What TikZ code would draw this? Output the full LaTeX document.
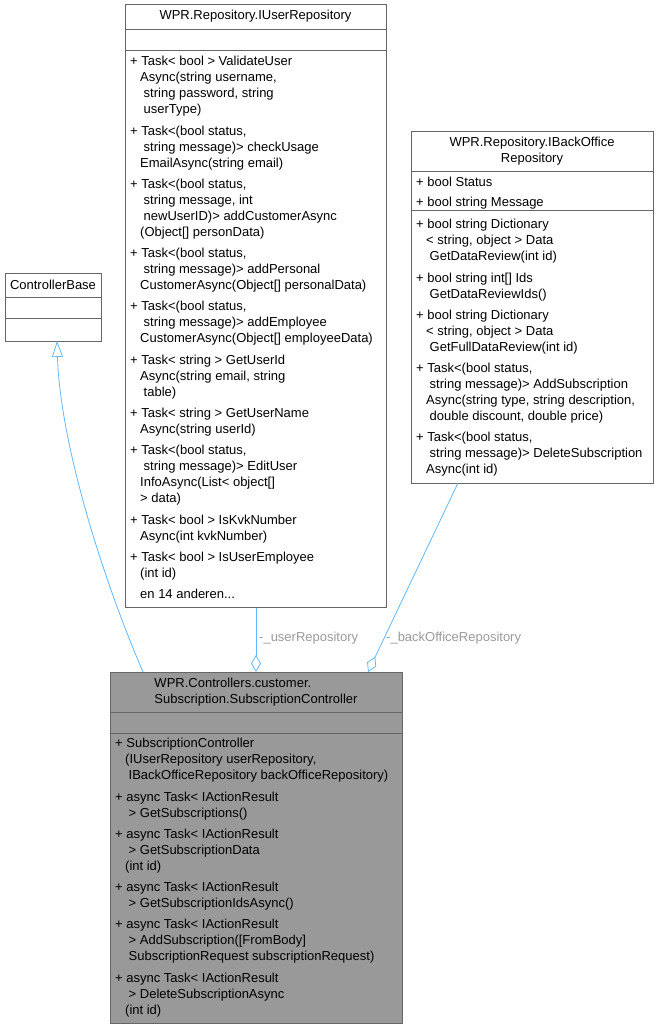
\documentclass[tikz,border=0pt]{standalone}
\usepackage{fontspec}
\setmainfont{Liberation Sans}
\usetikzlibrary{arrows.meta}
\definecolor{edgeblue}{HTML}{63B8FF}
\definecolor{boxline}{HTML}{666666}
\definecolor{ctrlfill}{HTML}{999999}
\definecolor{lblgray}{HTML}{9A9A9A}
\newcommand{\ind}{\hspace*{10pt}}
\newcommand{\indd}{\hspace*{13.5pt}}
\tikzset{
  classbox/.style={draw=boxline, fill=white, line width=1pt, inner sep=0pt, anchor=north west},
  divline/.style={draw=boxline, line width=1pt},
  title/.style={align=center, inner sep=0pt},
  member/.style={anchor=north west, align=left, inner sep=0pt},
  inherit/.style={draw=edgeblue, line width=0.8pt, -{Triangle[open,length=16pt,width=11pt]}},
  aggr/.style={draw=edgeblue, line width=0.8pt, -{Diamond[open,length=17pt,width=10pt]}},
  edgelbl/.style={anchor=west, text=lblgray, inner sep=0pt}
}
\begin{document}
\begin{tikzpicture}[x=1pt,y=-1pt,font=\fontsize{13}{16}\selectfont]
\useasboundingbox (0,0) rectangle (659,1029);

% the boxes
\node[classbox,minimum width=96,minimum height=68] (cbase) at (5,273) {};
\node[classbox,minimum width=261,minimum height=603] (iuser) at (125,4) {};
\node[classbox,minimum width=242,minimum height=352] (ibo) at (411,131) {};
\node[classbox,fill=ctrlfill,minimum width=292,minimum height=351] (ctrl) at (110,672) {};

\foreach \yy in {297,318}
\draw[divline] (5,\yy) -- (101,\yy);
\foreach \yy in {29,50}
\draw[divline] (125,\yy) -- (386,\yy);
\foreach \yy in {171,210}
\draw[divline] (411,\yy) -- (653,\yy);
\foreach \yy in {712,733}
\draw[divline] (110,\yy) -- (402,\yy);

% titles
\node[title] (cbasename) at (53,285) {ControllerBase};
\node[title] (iusername) at (255.5,16.5) {WPR.Repository.IUserRepository};
\node[title] (iboname) at (532,151) {WPR.Repository.IBackOffice\\Repository};
\node[title,align=left] (ctrlname) at (256,692) {WPR.Controllers.customer.\\Subscription.SubscriptionController};

% members
\node[member] (iusermeth) at (130,54.3) {%
\strut+ Task< bool > ValidateUser\\
\ind Async(string username,\\
\indd string password, string\\
\indd userType)\\[5.3pt]
+ Task<(bool status,\\
\indd string message)> checkUsage\\
\ind EmailAsync(string email)\\[5.3pt]
+ Task<(bool status,\\
\indd string message, int\\
\indd newUserID)> addCustomerAsync\\
\ind (Object[] personData)\\[5.3pt]
+ Task<(bool status,\\
\indd string message)> addPersonal\\
\ind CustomerAsync(Object[] personalData)\\[5.3pt]
+ Task<(bool status,\\
\indd string message)> addEmployee\\
\ind CustomerAsync(Object[] employeeData)\\[5.3pt]
+ Task< string > GetUserId\\
\ind Async(string email, string\\
\indd table)\\[5.3pt]
+ Task< string > GetUserName\\
\ind Async(string userId)\\[5.3pt]
+ Task<(bool status,\\
\indd string message)> EditUser\\
\ind InfoAsync(List< object[]\\
\ind > data)\\[5.3pt]
+ Task< bool > IsKvkNumber\\
\ind Async(int kvkNumber)\\[5.3pt]
+ Task< bool > IsUserEmployee\\
\ind (int id)\\[5.3pt]
\ind en 14 anderen...};

\node[member] (iboattr) at (416,175.3) {%
\strut+ bool Status\\[4pt]
+ bool string Message};
\node[member] (ibometh) at (416,217.3) {%
\strut+ bool string Dictionary\\
\ind < string, object > Data\\
\indd GetDataReview(int id)\\[5.3pt]
+ bool string int[] Ids\\
\indd GetDataReviewIds()\\[5.3pt]
+ bool string Dictionary\\
\ind < string, object > Data\\
\indd GetFullDataReview(int id)\\[5.3pt]
+ Task<(bool status,\\
\indd string message)> AddSubscription\\
\ind Async(string type, string description,\\
\indd double discount, double price)\\[5.3pt]
+ Task<(bool status,\\
\indd string message)> DeleteSubscription\\
\ind Async(int id)};

\node[member] (ctrlmeth) at (115,736.3) {%
\strut+ SubscriptionController\\
\ind (IUserRepository userRepository,\\
\indd IBackOfficeRepository backOfficeRepository)\\[5.3pt]
+ async Task< IActionResult\\
\indd > GetSubscriptions()\\[5.3pt]
+ async Task< IActionResult\\
\indd > GetSubscriptionData\\
\ind (int id)\\[5.3pt]
+ async Task< IActionResult\\
\indd > GetSubscriptionIdsAsync()\\[5.3pt]
+ async Task< IActionResult\\
\indd > AddSubscription([FromBody]\\
\indd SubscriptionRequest subscriptionRequest)\\[5.3pt]
+ async Task< IActionResult\\
\indd > DeleteSubscriptionAsync\\
\ind (int id)};

% connectors
\coordinate (inhfrom) at (143,672);
\coordinate (inhto) at (57,341);
\draw[inherit] (inhfrom) .. controls (100,572) and (60,440) .. (inhto);

\draw[aggr] (iuser.south) -- (iuser.south |- ctrl.north);
\node[edgelbl] (userlbl) at (259,638) {-\_userRepository};

\coordinate (bofrom) at (458,483);
\coordinate (boto) at (368,672);
\draw[aggr] (bofrom) -- (boto);
\node[edgelbl] (bolbl) at (386,638) {-\_backOfficeRepository};

\end{tikzpicture}
\end{document}
